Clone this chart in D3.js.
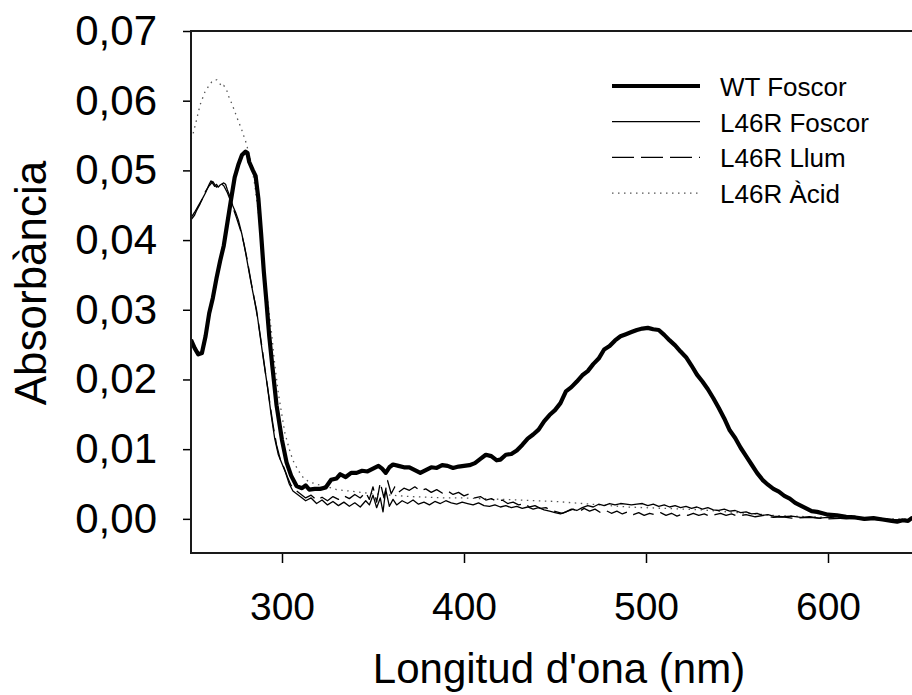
<!DOCTYPE html>
<html>
<head>
<meta charset="utf-8">
<script src="https://cdn.jsdelivr.net/npm/d3@7"></script>
<style>
  body { margin: 0; background: #fff; }
  svg { display: block; font-family: "Liberation Sans", Arial, sans-serif; }
</style>
</head>
<body>
<svg width="912" height="695"></svg>
<script>
// Spectra (wavelength in nm, absorbance)
const wtX = [250,252,254,256,258,260,262,264,266,268,270,272,274,276,278,280,281,282,284,285.5,287,288.5,290,291.5,293,294.7,297,300,302.5,305,308,311,313,315,318,321,324,327,330,332,335,338,341,344,347,350,353,355,357,359,361,364,367,370,373,376,379,382,385,388,391,394,397,400,403,406,409,412,415,418,420,423,426,429,432,435,438,441,444,447,450,453,456,459,462,465,468,471,474,477,480,483,486,489,492,495,498,501,504,507,510,513,516,519,522,525,528,531,534,537,540,543,546,549,552,555,558,561,564,567,570,573,576,579,582,585,588,591,594,597,600,605,610,615,620,625,630,635,638,641,644,646,650];
const wtY = [0.0257,0.0245,0.0236,0.0238,0.0262,0.0295,0.0317,0.0345,0.0370,0.0392,0.0425,0.0458,0.0490,0.0508,0.0522,0.0527,0.0525,0.0512,0.0500,0.0492,0.0460,0.0410,0.0355,0.0310,0.0262,0.0219,0.0163,0.0113,0.0081,0.0062,0.0047,0.0044,0.0048,0.0042,0.0043,0.0043,0.0045,0.0056,0.0058,0.0064,0.0060,0.0066,0.0066,0.0069,0.0068,0.0072,0.0076,0.0072,0.0066,0.0074,0.0078,0.0076,0.0074,0.0074,0.0070,0.0066,0.0070,0.0074,0.0073,0.0077,0.0076,0.0073,0.0075,0.0076,0.0077,0.0080,0.0086,0.0092,0.0090,0.0084,0.0085,0.0092,0.0093,0.0098,0.0106,0.0115,0.0121,0.0128,0.0140,0.0149,0.0156,0.0166,0.0183,0.0189,0.0197,0.0206,0.0212,0.0222,0.0230,0.0243,0.0248,0.0256,0.0262,0.0265,0.0268,0.0271,0.0273,0.0274,0.0272,0.0271,0.0264,0.0256,0.0249,0.0240,0.0232,0.0220,0.0207,0.0197,0.0186,0.0173,0.0159,0.0144,0.0127,0.0116,0.0102,0.0090,0.0078,0.0066,0.0056,0.0049,0.0043,0.0039,0.0033,0.0029,0.0023,0.0019,0.0015,0.0011,0.0010,0.0008,0.0006,0.0005,0.0003,0.0002,0.0000,0.0001,-0.0001,-0.0003,-0.0004,-0.0002,-0.0003,0.0001,0.0001];

const foscorX = [250,252,253,255,256,258,260,261,262,263,264,265,266,268,269,270,271.5,273,274.5,276,278,280,282,284,286,288,290,292,294,296,298,300,302,304,306,308,310,313,316,319,322,325,328,331,334,337,340,343,346,348,350,352,354,355.5,357,359,361,363,366,369,372,375,378,381,384,387,390,393,396,399,402,405,408,411,414,417,420,423,426,429,432,435,438,441,444,447,450,453,456,459,462,465,468,471,474,477,480,483,486,489,492,495,498,501,504,507,510,513,516,519,522,525,528,531,534,537,540,543,546,549,552,555,558,561,564,567,570,575,580,585,590,595,600,610,620,630,640,650];
const foscorY = [0.0429,0.0436,0.0442,0.0452,0.0458,0.0468,0.0480,0.0485,0.0481,0.0477,0.0480,0.0476,0.0479,0.0482,0.0480,0.0472,0.0462,0.0449,0.0440,0.0429,0.0408,0.0382,0.0353,0.0325,0.0300,0.0262,0.0225,0.0190,0.0150,0.0115,0.0092,0.0079,0.0066,0.0050,0.0040,0.0036,0.0032,0.0026,0.0030,0.0022,0.0027,0.0020,0.0025,0.0019,0.0024,0.0018,0.0023,0.0017,0.0026,0.0020,0.0034,0.0016,0.0030,0.0010,0.0042,0.0018,0.0028,0.0020,0.0026,0.0022,0.0027,0.0021,0.0024,0.0020,0.0025,0.0022,0.0026,0.0023,0.0021,0.0024,0.0022,0.0020,0.0023,0.0019,0.0018,0.0020,0.0017,0.0019,0.0016,0.0018,0.0015,0.0017,0.0014,0.0016,0.0013,0.0011,0.0009,0.0007,0.0010,0.0014,0.0012,0.0016,0.0019,0.0017,0.0021,0.0019,0.0022,0.0020,0.0022,0.0021,0.0020,0.0021,0.0022,0.0019,0.0021,0.0018,0.0020,0.0017,0.0019,0.0016,0.0018,0.0015,0.0017,0.0014,0.0016,0.0013,0.0012,0.0014,0.0011,0.0012,0.0009,0.0010,0.0007,0.0008,0.0005,0.0006,0.0004,0.0003,0.0004,0.0002,0.0003,0.0001,0.0002,0.0000,0.0001,-0.0002,-0.0002,0.0000];

const llumX = [250,252,254,256,258,260,262,263,264,265,266,267,268,270,271.5,273,275,277,279,281,283,285,287,289,291,293,295,297,299,301,303,305,307,310,313,316,319,322,325,328,331,334,337,340,343,346,348,350,352,354,356,358,360,362,364,367,370,373,376,379,382,385,388,391,394,397,400,403,406,409,412,415,418,421,424,427,430,433,436,439,442,445,448,451,454,457,460,463,466,469,472,475,478,481,484,487,490,493,496,499,502,505,508,511,514,517,520,523,526,529,532,535,538,541,544,547,550,555,560,565,570,575,580,590,600,610,620,630,640,650];
const llumY = [0.0432,0.0440,0.0449,0.0458,0.0470,0.0478,0.0484,0.0480,0.0476,0.0478,0.0475,0.0480,0.0478,0.0468,0.0458,0.0447,0.0432,0.0416,0.0396,0.0370,0.0340,0.0312,0.0282,0.0246,0.0208,0.0172,0.0136,0.0106,0.0086,0.0074,0.0060,0.0048,0.0042,0.0036,0.0030,0.0034,0.0027,0.0031,0.0026,0.0032,0.0028,0.0033,0.0029,0.0035,0.0030,0.0038,0.0028,0.0046,0.0024,0.0052,0.0030,0.0055,0.0036,0.0046,0.0038,0.0044,0.0041,0.0046,0.0040,0.0043,0.0038,0.0042,0.0037,0.0040,0.0035,0.0038,0.0033,0.0036,0.0030,0.0032,0.0027,0.0029,0.0025,0.0027,0.0022,0.0024,0.0020,0.0022,0.0017,0.0019,0.0015,0.0016,0.0012,0.0010,0.0008,0.0011,0.0014,0.0010,0.0015,0.0011,0.0014,0.0009,0.0012,0.0008,0.0011,0.0007,0.0010,0.0006,0.0009,0.0005,0.0008,0.0006,0.0009,0.0005,0.0008,0.0004,0.0007,0.0005,0.0008,0.0005,0.0007,0.0004,0.0006,0.0008,0.0005,0.0007,0.0004,0.0006,0.0003,0.0005,0.0002,0.0003,0.0001,0.0002,0.0000,0.0001,-0.0001,0.0000,-0.0002,0.0000];

const acidX = [250,251,253,255,257.7,260,261.4,263,264.1,265.5,266.9,268,269.6,271,272.4,274,275.1,277.9,280.6,283,285,287,289,291,293,294.3,296,298,300,301.6,304,306,309,312,315,320,325,330,340,350,360,370,380,390,400,410,420,430,440,450,460,470,480,490,500,510,520,530,540,550,560,570,580,590,600,620,640,650];
const acidY = [0.0545,0.0551,0.0572,0.0594,0.0613,0.0622,0.0627,0.0630,0.0630,0.0626,0.0620,0.0622,0.0615,0.0604,0.0596,0.0585,0.0577,0.0558,0.0537,0.0510,0.0480,0.0440,0.0390,0.0335,0.0295,0.0266,0.0222,0.0180,0.0148,0.0123,0.0100,0.0084,0.0069,0.0058,0.0053,0.0049,0.0046,0.0042,0.0039,0.0036,0.0034,0.0032,0.0031,0.0030,0.0030,0.0029,0.0028,0.0027,0.0026,0.0025,0.0023,0.0021,0.0019,0.0017,0.0016,0.0015,0.0014,0.0013,0.0011,0.0009,0.0007,0.0005,0.0004,0.0003,0.0002,0.0001,0.0000,0.0000];

const seriesNames = ["WT Foscor", "L46R Foscor", "L46R Llum", "L46R \u00c0cid"];
const xTicks = [300, 400, 500, 600];
const yTicks = [0, 0.01, 0.02, 0.03, 0.04, 0.05, 0.06, 0.07];

// Plot box (right edge falls just outside the picture)
const plotLeft = 191, plotRight = 919, plotTop = 31, plotBottom = 553;

const svg = d3.select("svg");

const x = d3.scaleLinear().domain([250, 650]).range([plotLeft, plotRight]);
const y = d3.scaleLinear().domain([-0.0049, 0.07]).range([plotBottom, plotTop]);

// Line styles, one per series
const styles = [
    { width: 4.2, dash: null, color: "#000" },
    { width: 1.3, dash: null, color: "#000" },
    { width: 1.3, dash: "22,7", color: "#000" },
    { width: 1.3, dash: "1.5,4.5", color: "#555" }
];

const series = [
    d3.zip(wtX, wtY),
    d3.zip(foscorX, foscorY),
    d3.zip(llumX, llumY),
    d3.zip(acidX, acidY)
];

svg.append("clipPath").attr("id", "plot-clip")
    .append("rect")
    .attr("x", plotLeft).attr("y", plotTop)
    .attr("width", plotRight - plotLeft).attr("height", plotBottom - plotTop);

const line = d3.line()
    .x(d => x(d[0]))
    .y(d => y(d[1]));

// draw thin ones first so the thick WT line sits on top
const order = [3, 2, 1, 0];
const plot = svg.append("g").attr("clip-path", "url(#plot-clip)");
order.forEach(i => {
    plot.append("path")
        .datum(series[i])
        .attr("fill", "none")
        .attr("stroke", styles[i].color)
        .attr("stroke-width", styles[i].width)
        .attr("stroke-dasharray", styles[i].dash)
        .attr("stroke-linejoin", "round")
        .attr("d", line);
});

// Axes
const comma = v => d3.format(".2f")(v).replace(".", ",");

const yAxis = svg.append("g")
    .attr("class", "y-axis")
    .attr("transform", `translate(${plotLeft},0)`)
    .call(d3.axisLeft(y).tickValues(yTicks).tickFormat(comma).tickSize(8).tickPadding(26));

const xAxis = svg.append("g")
    .attr("class", "x-axis")
    .attr("transform", `translate(0,${plotBottom})`)
    .call(d3.axisBottom(x).tickValues(xTicks).tickSize(10).tickPadding(29));

svg.selectAll(".y-axis .domain, .x-axis .domain").remove();
yAxis.selectAll("text").attr("font-size", 42).attr("fill", "#000")
    .attr("font-family", "Liberation Sans, Arial, sans-serif");
xAxis.selectAll("text").attr("font-size", 39).attr("fill", "#000")
    .attr("font-family", "Liberation Sans, Arial, sans-serif");
svg.selectAll(".tick line").attr("stroke", "#000").attr("stroke-width", 1.5);

// Frame: left, bottom and top edges
svg.append("path")
    .attr("d", `M${plotRight},${plotTop}H${plotLeft}V${plotBottom}H${plotRight}`)
    .attr("fill", "none")
    .attr("stroke", "#1a1a1a")
    .attr("stroke-width", 2);

// Axis titles
svg.append("text")
    .attr("x", 559)
    .attr("y", 683)
    .attr("text-anchor", "middle")
    .attr("font-size", 42)
    .text("Longitud d'ona (nm)");

svg.append("text")
    .attr("transform", "translate(46,283) rotate(-90)")
    .attr("text-anchor", "middle")
    .attr("font-size", 44)
    .text("Absorb\u00e0ncia");

// Legend
const legend = svg.append("g").attr("transform", "translate(612,86)");
seriesNames.forEach((name, i) => {
    const row = legend.append("g").attr("transform", `translate(0,${i * 35.7})`);
    row.append("line")
        .attr("x1", 0).attr("x2", 88)
        .attr("stroke", styles[i].color)
        .attr("stroke-width", styles[i].width)
        .attr("stroke-dasharray", styles[i].dash);
    row.append("text")
        .attr("x", 108)
        .attr("y", 10)
        .attr("font-size", 26)
        .text(name);
});
</script>
</body>
</html>
